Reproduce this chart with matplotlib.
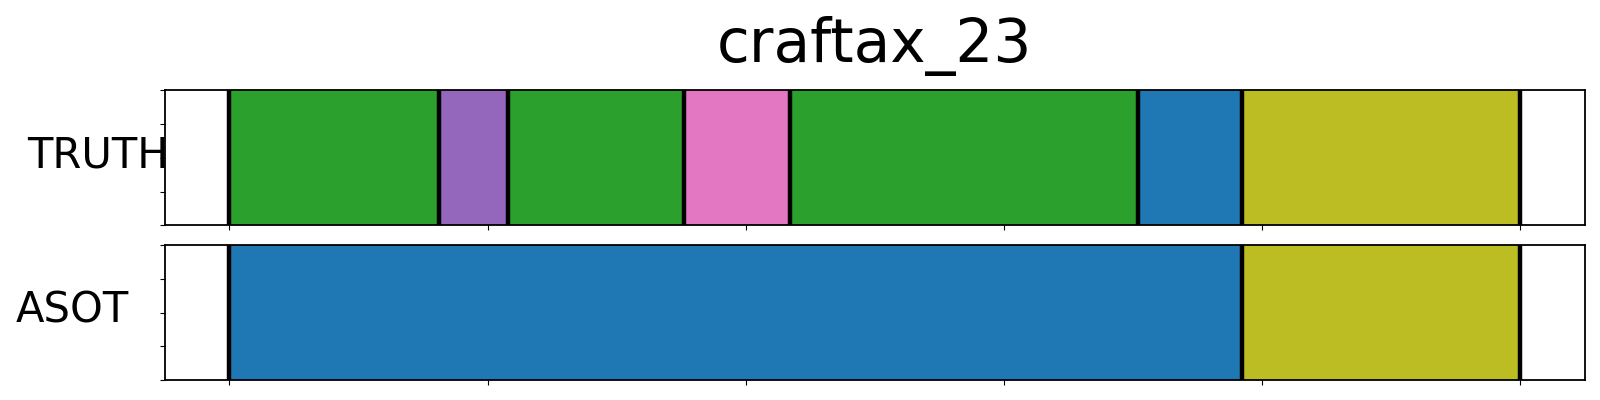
import numpy as np
import matplotlib
matplotlib.use("Agg")
from matplotlib import pyplot as plt

title = "craftax_23"
n_frames = 500
rows = ["TRUTH", "ASOT"]

# segment boundaries (start frames) and colours per row
truth_bounds = [0, 81, 108, 176, 217, 352, 392, 500]
truth_colors = ["tab:green", "tab:purple", "tab:green", "tab:pink", "tab:green", "tab:blue", "tab:olive"]
asot_bounds = [0, 392, 500]
asot_colors = ["tab:blue", "tab:olive"]

bounds = [truth_bounds, asot_bounds]
colors = [truth_colors, asot_colors]
label_x = [-0.047, -0.065]

fig = plt.figure(figsize=(16, 4), dpi=100)
ax_top = fig.add_axes([0.103, 0.4365, 0.8876, 0.3385])
ax_bot = fig.add_axes([0.103, 0.05, 0.8876, 0.3375])
axes = [ax_top, ax_bot]

for i, ax in enumerate(axes):
    b = bounds[i]
    for s, e, c in zip(b[:-1], b[1:], colors[i]):
        ax.axvspan(s, e, color=c, lw=0)
    for x in b:
        ax.axvline(x, color="black", lw=3.2)
    ax.set_xlim(-0.05 * n_frames, 1.05 * n_frames)
    ax.set_ylim(0, 1)
    ax.set_xticks(np.arange(0, n_frames + 1, 100))
    ax.set_yticks(np.linspace(0, 1, 5))
    ax.set_xticklabels([]); ax.set_yticklabels([])
    ax.set_ylabel(rows[i], rotation=0, fontsize=30, ha="center", va="center")
    ax.yaxis.set_label_coords(label_x[i], 0.515)
    for sp in ax.spines.values():
        sp.set_linewidth(1.3)

ax_top.set_title(title, fontsize=43, pad=20)

fig.savefig("out.png", dpi=100)
